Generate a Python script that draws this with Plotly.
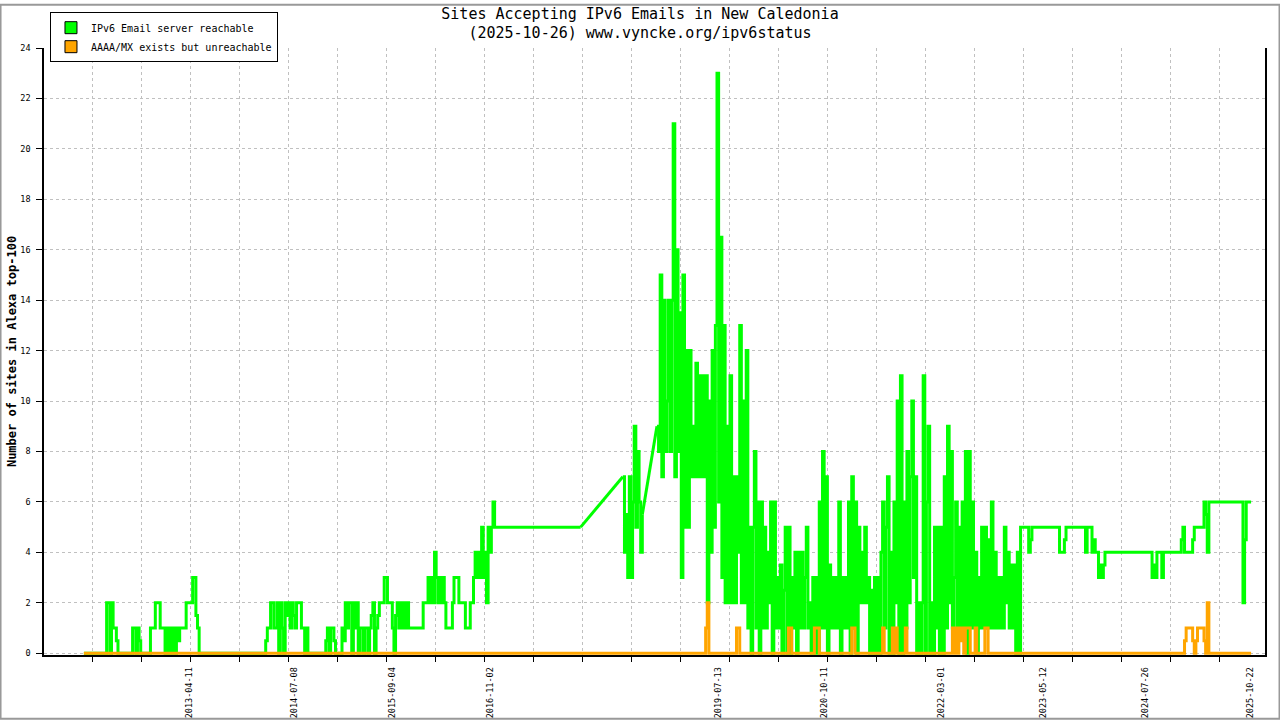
import plotly.graph_objects as go
import pandas as pd

# weekly samples, first sample on 2012-01-14
first_day = "2012-01-14"

green_2012 = [0]*14 + [2, 2, 0, 2, 1, 1, 0.5] + [0]*9 + [1, 1, 0, 1, 0.5] + [0]*6 + \
             [1, 1, 1, 2, 2, 2, 1, 1, 1, 0, 1]
green_2013 = [0, 1, 0, 1, 0, 1, 0.5, 1, 1, 1, 1, 2, 2, 2, 2, 3, 3, 1.5, 1] + [0]*33
green_2014 = [0]*8 + [0.5, 1, 1, 2, 2, 1, 1, 2, 0, 2, 1, 0, 2, 1.5, 2, 1, 2, 1.5, 1, 2, 2, 2,
                      1, 1, 0, 1, 0] + [0]*10 + [0.5, 1, 0, 1, 1, 0.5, 0]
green_2015 = [0, 0, 0, 1, 0.5, 2, 1, 2, 2, 0, 2, 1, 2, 0, 1,
              1, 0, 1, 1, 0, 1, 1.5, 2, 0, 1, 1.5,
              2, 2, 2, 3, 3, 2, 2, 2, 1, 0, 1.5, 2, 1, 2, 1, 2, 1, 2, 1] + [1]*7
green_2016 = [1, 2, 2, 2, 3, 2, 3, 2, 4, 3, 2, 3, 2, 3, 2, 1, 1, 1, 1, 2,
              3, 3, 3, 2, 2, 2, 2, 1, 1, 1, 2, 2, 3, 4, 3, 4, 3, 5, 3, 4, 2, 5, 4, 5, 6, 5] + [5]*6
green_2017 = [5]*47 + [None]*5
green_2018 = [None]*20 + [7, 4, 5.5, 3, 7, 3, 6, 9, 5, 8, 6, 4, 5.5] + [None]*8 + \
             [9, 8, 15, 7, 14, 8, 10, 14, 8, 14, 21]
green_2019 = [7, 16, 8, 13.5, 3, 15, 5, 12, 5, 12, 7, 9, 7, 11.5, 7, 11, 7, 11, 7, 11,
              2, 10, 4, 12, 5, 13, 23, 6, 16.5, 3, 13, 2, 9, 2, 11, 2, 7, 2, 7, 4,
              13, 2, 10, 2, 12, 1, 5, 0, 5, 8, 1, 6]
green_2020 = [0, 6, 1, 5, 1, 4, 2, 6, 0, 6, 1, 3, 1, 3.5, 0, 2.5, 5, 0, 5, 0,
              3, 1, 4, 0, 4, 1, 4, 1, 3, 5, 1, 2, 0, 3, 0, 3, 0, 6, 1, 8,
              1, 7, 0, 3.5, 1, 3, 1, 3, 1, 6, 0, 3]
green_2021 = [1, 3, 1, 6, 0, 7, 1, 6, 0, 5, 2, 4, 2, 5, 2, 3, 0, 2.5, 0, 3,
              0, 3, 0, 4, 6, 1, 5, 7, 0, 4, 0, 6, 2, 10, 0, 11, 0, 6, 1, 8,
              2, 7, 10, 3, 7, 0, 2, 0, 2, 11, 0, 6]
green_2022 = [9, 0, 2, 0, 5, 1, 5, 0, 5, 0, 7, 1, 9, 2, 8, 1, 3, 6, 1, 5,
              1, 6, 1, 8, 0, 8, 1, 6, 1, 4, 0, 3, 1, 5, 1, 5, 1, 4.5, 1, 6,
              1, 4, 1, 3, 1, 3, 1, 5, 2, 4, 1, 3.5]
green_2023 = [1, 3.5, 0, 4, 0, 5, 5, 5, 5, 5, 4, 4.5] + [5]*17 + [4, 4, 4, 4.5] + [5]*12 + \
             [4, 5, 5, 5, 4, 4.5, 4]
green_2024 = [4, 3, 3.5, 3, 3.5, 4] + [4]*28 + [3, 3.5, 3, 4, 4, 4, 3] + [4]*11
green_2025 = [4.5, 5, 4, 4, 4, 4, 4, 4.5, 5, 5, 5, 5, 5, 5, 6, 5.5, 4, 6] + [6]*20 + \
             [2, 4.5, 6, 6, 6, 6]

orange_2012_2018 = [0]*364
orange_2019 = [0]*19 + [1, 2] + [0]*17 + [1, 1] + [0]*12
orange_2020 = [0]*18 + [1, 1] + [0]*14 + [1, 1, 1] + [0]*15
orange_2021 = [0]*5 + [1, 1] + [0]*17 + [1] + [0]*5 + [1, 0, 1] + [0]*5 + [1] + [0]*13
orange_2022 = [0]*15 + [1, 0, 1, 0, 1, 0.5, 1, 0, 1, 1, 1, 0, 0, 0, 1] + [0]*5 + [1, 1] + [0]*15
orange_2023_2024 = [0]*104
orange_2025 = [0, 0, 0.5, 1, 1, 1, 1, 0.5, 0, 0.5, 1, 1, 1, 1, 0.5, 0, 2] + [0]*27

label_dates = ["2013-04-11", "2014-07-08", "2015-09-04", "2016-11-02", "2019-07-13",
               "2020-10-11", "2022-03-01", "2023-05-12", "2024-07-26", "2025-10-22"]

green = (green_2012 + green_2013 + green_2014 + green_2015 + green_2016 + green_2017 +
         green_2018 + green_2019 + green_2020 + green_2021 + green_2022 + green_2023 +
         green_2024 + green_2025)
orange = (orange_2012_2018 + orange_2019 + orange_2020 + orange_2021 + orange_2022 +
          orange_2023_2024 + orange_2025)
dates = pd.date_range(first_day, periods=len(green), freq="7D")

# periods with no samples are bridged by a straight line, like the original
gap_x, gap_y = [], []
i = 1
while i < len(green):
    if green[i] is None and green[i - 1] is not None:
        j = i
        while green[j] is None:
            j += 1
        gap_x += [dates[i - 1], dates[j], None]
        gap_y += [green[i - 1], green[j], None]
        i = j
    i += 1

mono = "DejaVu Sans Mono"
fig = go.Figure()

# legend entries (box icons like the original)
fig.add_trace(go.Bar(x=[None], y=[None], name="IPv6 Email server reachable",
                     marker=dict(color="#00ff00", line=dict(color="black", width=1))))
fig.add_trace(go.Bar(x=[None], y=[None], name="AAAA/MX exists but unreachable",
                     marker=dict(color="#ffa500", line=dict(color="black", width=1))))

fig.add_trace(go.Scatter(x=gap_x, y=gap_y, mode="lines", showlegend=False,
                         line=dict(color="#00ff00", width=3)))
fig.add_trace(go.Scatter(x=dates, y=green, mode="lines", line_shape="hv", showlegend=False,
                         line=dict(color="#00ff00", width=3)))
fig.add_trace(go.Scatter(x=dates, y=orange[:len(dates)], mode="lines", line_shape="hv",
                         showlegend=False, line=dict(color="#ffa500", width=3)))

fig.update_xaxes(type="date", range=["2011-07-26", "2025-12-24"], automargin=False,
                 tickmode="array", tickvals=label_dates, ticktext=label_dates,
                 tickangle=-90, ticks="", showgrid=False, ticklabelstandoff=7,
                 showline=True, linecolor="black", linewidth=1.5,
                 tickfont=dict(family=mono, size=8.5, color="black"),
                 minor=dict(tickmode="linear", tick0="2011-07-25", dtick=211.3 * 86400000,
                            ticks="outside", ticklen=5, tickcolor="black",
                            showgrid=True, gridcolor="#c0c0c0", griddash="dot", gridwidth=1))
fig.update_yaxes(range=[-0.07, 24], tick0=0, dtick=2, ticks="outside", ticklen=6,
                 tickcolor="black", showline=True, mirror=True, linecolor="black",
                 linewidth=1.5, showgrid=True, gridcolor="#c0c0c0", griddash="dot",
                 zeroline=False, automargin=False, ticklabelstandoff=4,
                 tickfont=dict(family=mono, size=8.5, color="black"),
                 title=dict(text="<b>Number of sites in Alexa top-100</b>",
                            font=dict(family=mono, size=12, color="black"), standoff=1))

fig.update_layout(width=1280, height=720, autosize=False,
                  margin=dict(l=44, r=15, t=44, b=65),
                  paper_bgcolor="white", plot_bgcolor="white",
                  font=dict(family=mono, color="black"),
                  title=dict(text="Sites Accepting IPv6 Emails in New Caledonia<br>"
                                  "(2025-10-26) www.vyncke.org/ipv6status",
                             x=0.5, xref="container", xanchor="center",
                             y=0.974, yref="container", yanchor="top",
                             font=dict(family=mono, size=15, color="black")),
                  legend=dict(x=0.0049, y=1.059, xanchor="left", yanchor="top",
                              bgcolor="white", bordercolor="black", borderwidth=1,
                              font=dict(family=mono, size=10, color="black"),
                              itemwidth=30, tracegroupgap=0),
                  shapes=[dict(type="rect", xref="paper", yref="paper",
                               x0=-0.0356, x1=1.0119, y0=-0.105, y1=1.0711,
                               line=dict(color="#999999", width=2))])

fig.write_html("out.html", config={"displayModeBar": False},
               post_script="document.body.style.margin='0';")
